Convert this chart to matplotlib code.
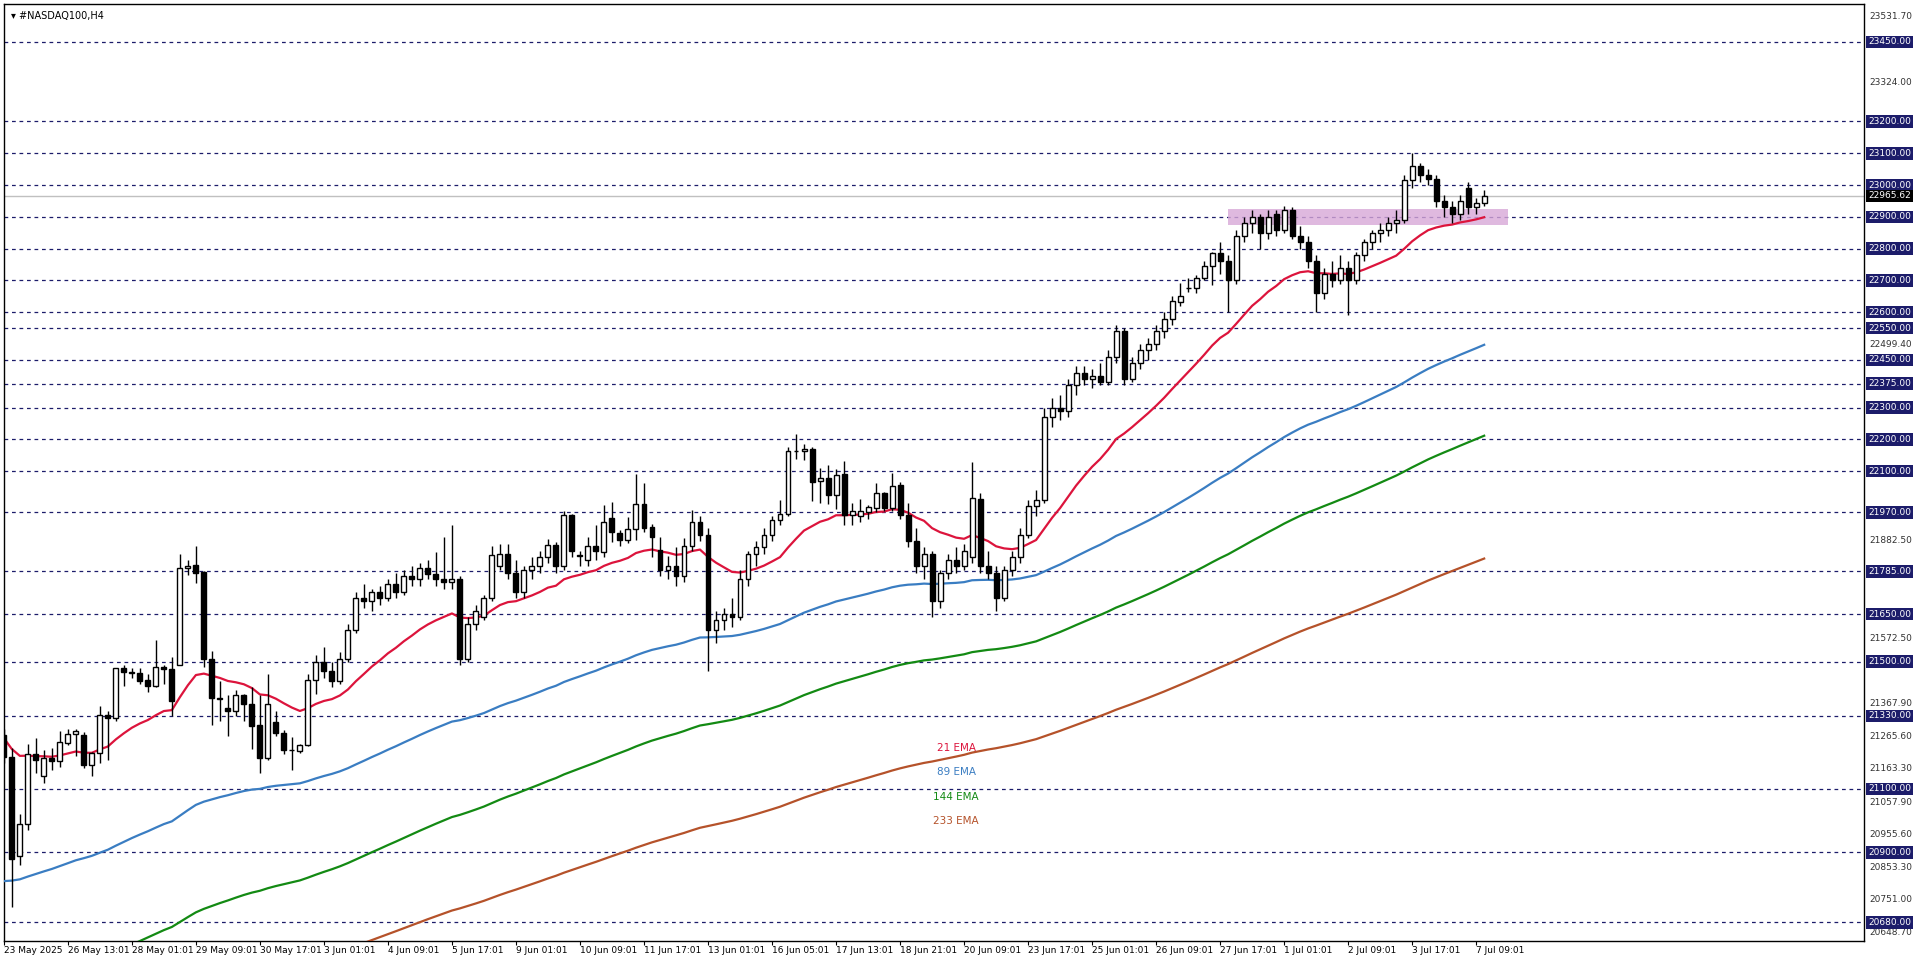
import numpy as np
import matplotlib
matplotlib.use('Agg')
import matplotlib.pyplot as plt
from matplotlib.patches import Rectangle
import matplotlib.transforms as mtransforms

# ── Data (H4 candles) ─────────────────────────────────────────────────────────
opens = [21270, 21200, 20890, 20990, 21210, 21140, 21196, 21187, 21245, 21272,
         21269, 21174, 21212, 21332, 21323, 21481, 21466, 21465, 21444, 21425,
         21484, 21478, 21491, 21795, 21806, 21781, 21509, 21387, 21356, 21344,
         21394, 21368, 21300, 21197, 21312, 21277, 21222, 21218, 21239, 21443,
         21500, 21470, 21440, 21510, 21600, 21700, 21690, 21720, 21700, 21745,
         21720, 21770, 21760, 21795, 21775, 21760, 21750, 21760, 21510, 21620,
         21640, 21700, 21800, 21840, 21780, 21720, 21790, 21800, 21830, 21868,
         21800, 21961, 21836, 21820, 21865, 21845, 21951, 21906, 21883, 21917,
         21995, 21924, 21852, 21790, 21800, 21770, 21865, 21940, 21900, 21600,
         21630, 21650, 21640, 21760, 21840, 21860, 21900, 21945, 21966, 22162,
         22162, 22169, 22069, 22079, 22025, 22092, 21961, 21960, 21970, 21984,
         22030, 21984, 22057, 21961, 21880, 21800, 21840, 21690, 21780, 21820,
         21800, 21830, 22013, 21800, 21780, 21700, 21790, 21830, 21900, 21990,
         22010, 22270, 22300, 22290, 22370, 22410, 22390, 22400, 22380, 22460,
         22540, 22390, 22440, 22480, 22500, 22540, 22580, 22633, 22675, 22677,
         22706, 22744, 22787, 22760, 22700, 22840, 22880, 22900, 22850, 22910,
         22860, 22920, 22840, 22820, 22760, 22660, 22720, 22700, 22740, 22700,
         22780, 22820, 22850, 22860, 22880, 22890, 23015, 23060, 23030, 23020,
         22950, 22930, 22910, 22990, 22930, 22945]
closes = [21200, 20880, 20990, 21210, 21190, 21196, 21187, 21248, 21272, 21281,
          21174, 21212, 21332, 21323, 21481, 21467, 21466, 21441, 21425, 21484,
          21476, 21377, 21795, 21802, 21779, 21508, 21386, 21383, 21344, 21394,
          21367, 21298, 21197, 21368, 21276, 21224, 21222, 21239, 21443, 21500,
          21470, 21440, 21510, 21600, 21700, 21690, 21720, 21700, 21745, 21720,
          21770, 21760, 21795, 21775, 21760, 21750, 21760, 21510, 21620, 21660,
          21700, 21836, 21840, 21780, 21720, 21790, 21800, 21830, 21868, 21800,
          21961, 21850, 21834, 21865, 21848, 21939, 21907, 21883, 21917, 21995,
          21922, 21892, 21790, 21800, 21770, 21865, 21940, 21900, 21600, 21630,
          21650, 21640, 21760, 21840, 21860, 21900, 21945, 21966, 22162, 22162,
          22171, 22067, 22078, 22025, 22089, 21961, 21975, 21973, 21988, 22030,
          21984, 22054, 21961, 21880, 21800, 21840, 21690, 21780, 21820, 21800,
          21850, 22016, 21800, 21780, 21700, 21790, 21830, 21900, 21990, 22010,
          22270, 22300, 22290, 22370, 22410, 22390, 22400, 22380, 22460, 22540,
          22390, 22440, 22480, 22500, 22540, 22580, 22634, 22650, 22675, 22706,
          22744, 22787, 22760, 22700, 22840, 22880, 22900, 22850, 22900, 22860,
          22920, 22840, 22820, 22760, 22660, 22720, 22700, 22740, 22700, 22780,
          22820, 22850, 22860, 22880, 22890, 23015, 23060, 23030, 23020, 22950,
          22930, 22910, 22950, 22930, 22945, 22966]
highs = [21290, 21230, 21020, 21240, 21260, 21222, 21230, 21282, 21290, 21290,
         21278, 21216, 21360, 21345, 21481, 21490, 21482, 21480, 21462, 21568,
         21490, 21515, 21838, 21820, 21863, 21785, 21534, 21440, 21394, 21410,
         21398, 21420, 21394, 21460, 21345, 21284, 21263, 21242, 21460, 21520,
         21545, 21500, 21530, 21620, 21720, 21745, 21730, 21740, 21760, 21780,
         21790, 21800, 21810, 21820, 21844, 21894, 21931, 21770, 21640, 21680,
         21710, 21863, 21870, 21872, 21820, 21800, 21830, 21850, 21886, 21876,
         21973, 21965, 21848, 21894, 21930, 21992, 22002, 21915, 21956, 22092,
         22064, 21935, 21893, 21832, 21860, 21890, 21976, 21960, 21920, 21660,
         21670, 21700, 21790, 21850, 21880, 21920, 21960, 22010, 22177, 22218,
         22185, 22175, 22110, 22120, 22105, 22131, 21999, 22011, 21994, 22064,
         22035, 22095, 22066, 22000, 21920, 21860, 21850, 21790, 21840, 21860,
         21870, 22129, 22030, 21850, 21800, 21800, 21850, 21920, 22010, 22040,
         22300, 22330, 22340, 22390, 22430, 22430, 22420, 22440, 22480, 22560,
         22550, 22460, 22500, 22520, 22560, 22600, 22650, 22692, 22706, 22716,
         22760, 22790, 22820, 22780, 22860, 22900, 22920, 22910, 22920, 22920,
         22935, 22930, 22870, 22840, 22780, 22740, 22760, 22780, 22760, 22790,
         22830, 22860, 22880, 22900, 22920, 23030, 23100, 23070, 23050, 23030,
         22970, 22950, 22970, 23010, 22960, 22985]
lows = [21180, 20730, 20860, 20970, 21150, 21120, 21160, 21170, 21238, 21205,
        21165, 21140, 21180, 21190, 21315, 21425, 21450, 21430, 21405, 21420,
        21430, 21330, 21490, 21773, 21748, 21485, 21300, 21315, 21266, 21330,
        21315, 21226, 21150, 21190, 21267, 21210, 21158, 21212, 21235, 21400,
        21450, 21420, 21430, 21500, 21590, 21670, 21660, 21680, 21690, 21700,
        21710, 21740, 21740, 21760, 21740, 21730, 21730, 21490, 21500, 21600,
        21630, 21690, 21790, 21760, 21700, 21700, 21760, 21780, 21810, 21780,
        21790, 21830, 21800, 21800, 21820, 21830, 21878, 21865, 21873, 21883,
        21907, 21830, 21770, 21760, 21740, 21750, 21850, 21880, 21470, 21560,
        21600, 21610, 21630, 21740, 21800, 21840, 21880, 21930, 21960, 22139,
        22135, 22005, 22000, 21995, 21980, 21930, 21930, 21940, 21950, 21970,
        21975, 21975, 21950, 21860, 21780, 21760, 21640, 21670, 21760, 21780,
        21790, 21810, 21780, 21760, 21660, 21690, 21770, 21810, 21890, 21960,
        22000, 22240, 22260, 22270, 22340, 22370, 22360, 22370, 22370, 22440,
        22370, 22380, 22420, 22450, 22480, 22520, 22560, 22620, 22664, 22660,
        22700, 22687, 22720, 22600, 22690, 22820, 22850, 22800, 22830, 22840,
        22850, 22830, 22800, 22740, 22600, 22640, 22680, 22690, 22590, 22690,
        22760, 22800, 22820, 22840, 22850, 22880, 22990, 23010, 23000, 22930,
        22900, 22880, 22890, 22910, 22910, 22935]

ema_periods = [21, 89, 144, 233]
ema_seeds = [21260, 20810, 20450, 20250]      # EMA values at the first bar
ema_colors = ['#dc143c', '#3a7dc2', '#138a13', '#b5522a']

levels = [23450, 23200, 23100, 23000, 22900, 22800, 22700, 22600, 22550, 22450,
          22375, 22300, 22200, 22100, 21970, 21785, 21650, 21500, 21330, 21100,
          20900, 20680]
current_price = 22965.62
scale_ticks = [23531.70, 23426.30, 23324.00, 23221.70, 23119.40, 23017.10, 22914.80,
               22809.40, 22707.10, 22604.80, 22499.40, 22397.10, 22294.80, 22192.50,
               22090.20, 21985.20, 21882.50, 21780.20, 21677.90, 21572.50, 21470.20,
               21367.90, 21265.60, 21163.30, 21057.90, 20955.60, 20853.30, 20751.00,
               20648.70]
date_labels = ['23 May 2025', '26 May 13:01', '28 May 01:01', '29 May 09:01', '30 May 17:01',
               '3 Jun 01:01', '4 Jun 09:01', '5 Jun 17:01', '9 Jun 01:01', '10 Jun 09:01',
               '11 Jun 17:01', '13 Jun 01:01', '16 Jun 05:01', '17 Jun 13:01', '18 Jun 21:01',
               '20 Jun 09:01', '23 Jun 17:01', '25 Jun 01:01', '26 Jun 09:01', '27 Jun 17:01',
               '1 Jul 01:01', '2 Jul 09:01', '3 Jul 17:01', '7 Jul 09:01']
zone_low, zone_high = 22875, 22925
zone_start, zone_end = 153, 188

# ── Figure ────────────────────────────────────────────────────────────────────
fig = plt.figure(figsize=(19.16, 9.63), dpi=100)
ax = fig.add_axes([0.002, 0.023, 0.971, 0.973])
ax.set_xlim(0, 232.5)
ax.set_ylim(20622, 23570)

n = len(closes)
x = np.arange(n)
lvl_color = '#1c1c6a'
for lv in levels:
    ax.axhline(lv, color=lvl_color, lw=0.9, ls=(0, (3, 3)), zorder=1)
ax.axhline(current_price, color='#c0c0c0', lw=1.0, zorder=1)

ax.add_patch(Rectangle((zone_start, zone_low), zone_end - zone_start, zone_high - zone_low,
                       fc='#d8a8d8', ec='none', alpha=0.8, zorder=2))

# EMAs
c = np.array(closes, dtype=float)
for p, s, col in zip(ema_periods, ema_seeds, ema_colors):
    a = 2.0 / (p + 1)
    e = np.empty(n)
    e[0] = s
    for i in range(1, n):
        e[i] = e[i - 1] + a * (c[i] - e[i - 1])
    ax.plot(x, e, color=col, lw=1.6, zorder=3)

# Candles
w = 0.62
for i in range(n):
    o, h, l, cl = opens[i], highs[i], lows[i], closes[i]
    ax.plot([i, i], [l, h], color='black', lw=1.0, zorder=4, solid_capstyle='butt')
    lo, hi = min(o, cl), max(o, cl)
    fc = 'white' if cl >= o else 'black'
    ax.add_patch(Rectangle((i - w / 2, lo), w, max(hi - lo, 2), fc=fc, ec='black',
                           lw=1.0, zorder=5))

# EMA legend texts
for k, (p, col) in enumerate(zip(ema_periods, ema_colors)):
    ax.text(119, 21230 - k * 77, f"{p} EMA", color=col, fontsize=7.5, ha='center',
            va='center', zorder=6)

ax.text(0.004, 0.992, "\u25BE #NASDAQ100,H4", transform=ax.transAxes, fontsize=7,
        ha='left', va='top', color='black')

# Right price scale (plain ticks hidden where a level box covers them)
trans = mtransforms.blended_transform_factory(ax.transAxes, ax.transData)
boxed = levels + [current_price]
for t in scale_ticks:
    if min(abs(t - b) for b in boxed) < 30:
        continue
    ax.text(1.003, t, f"{t:.2f}", transform=trans, fontsize=6.5, va='center',
            ha='left', color='#333333', clip_on=False)
for lv in levels:
    ax.text(1.002, lv, f"{lv:.2f}", transform=trans, fontsize=6.5, va='center', ha='left',
            color='white', clip_on=False,
            bbox=dict(boxstyle='square,pad=0.2', fc=lvl_color, ec='none'))
ax.text(1.002, current_price, f"{current_price:.2f}", transform=trans, fontsize=6.5,
        va='center', ha='left', color='white', clip_on=False,
        bbox=dict(boxstyle='square,pad=0.2', fc='black', ec='none'))

ax.yaxis.set_visible(False)
ax.set_xticks(np.arange(len(date_labels)) * 8)
ax.set_xticklabels(date_labels, fontsize=6.5, ha='left')
ax.tick_params(axis='x', length=3, pad=1, width=0.8)
for sp in ax.spines.values():
    sp.set_linewidth(1.0)

fig.savefig('out.png', dpi=100)
